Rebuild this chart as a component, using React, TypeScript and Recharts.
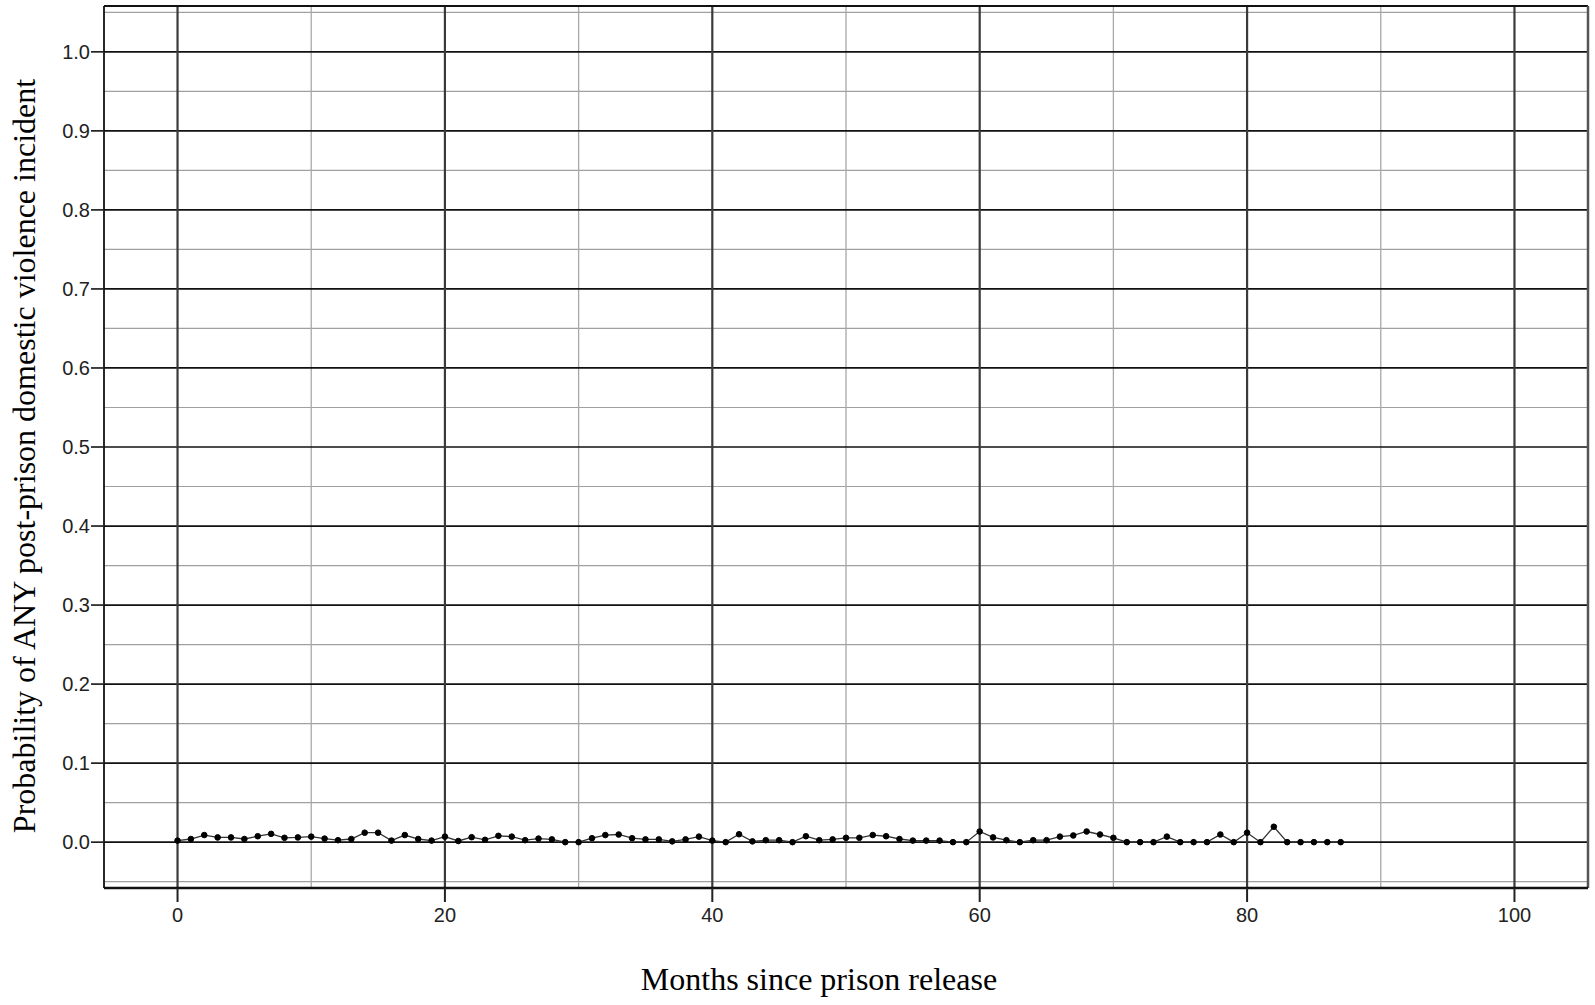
import { LineChart, Line, XAxis, YAxis, ReferenceLine, Label } from 'recharts';

// months since release (x) and estimated probability (y)
const months = [
  0, 1, 2, 3, 4, 5, 6, 7, 8, 9, 10, 11, 12, 13, 14, 15, 16, 17, 18, 19, 20, 21,
  22, 23, 24, 25, 26, 27, 28, 29, 30, 31, 32, 33, 34, 35, 36, 37, 38, 39, 40, 41,
  42, 43, 44, 45, 46, 47, 48, 49, 50, 51, 52, 53, 54, 55, 56, 57, 58, 59, 60, 61,
  62, 63, 64, 65, 66, 67, 68, 69, 70, 71, 72, 73, 74, 75, 76, 77, 78, 79, 80, 81,
  82, 83, 84, 85, 86, 87,
];

const probability = [
  0.002, 0.004, 0.009, 0.006, 0.006, 0.004, 0.0075, 0.0105, 0.0055, 0.006, 0.007, 0.0045,
  0.0025, 0.004, 0.012, 0.012, 0.002, 0.009, 0.004, 0.002, 0.007, 0.0015,
  0.0063, 0.003, 0.008, 0.007, 0.0025, 0.0045, 0.0035, 0.0, 0.0, 0.005, 0.009, 0.0097,
  0.005, 0.0035, 0.0035, 0.001, 0.0035, 0.007, 0.002, 0.0,
  0.01, 0.001, 0.0025, 0.0025, 0.0, 0.0075, 0.0025, 0.0035, 0.0055, 0.0055, 0.009, 0.0075,
  0.004, 0.002, 0.002, 0.002, 0.0, 0.0, 0.0135, 0.006,
  0.0025, 0.0, 0.0025, 0.0025, 0.007, 0.0085, 0.0135, 0.0097, 0.0055, 0.0, 0.0, 0.0,
  0.007, 0.0, 0.0, 0.0, 0.0097, 0.0, 0.012, 0.0,
  0.0195, 0.0, 0.0, 0.0, 0.0, 0.0,
];

const xTicks = [0, 20, 40, 60, 80, 100];
const xMinor = [10, 30, 50, 70, 90];
const yTicks = [0, 0.1, 0.2, 0.3, 0.4, 0.5, 0.6, 0.7, 0.8, 0.9, 1.0];
const yMinor = [-0.05, 0.05, 0.15, 0.25, 0.35, 0.45, 0.55, 0.65, 0.75, 0.85, 0.95, 1.05];

const X_DOMAIN: [number, number] = [-5.5, 105.5];
const Y_DOMAIN: [number, number] = [-0.058, 1.058];

const data = months.map((m, i) => ({ month: m, p: probability[i] }));

const sans = "'Liberation Sans', Arial, sans-serif";
const serif = "'Liberation Serif', 'Times New Roman', serif";

export default function App() {
  return (
    <div style={{ position: 'absolute', left: 0, top: 0, background: '#fff' }}>
      <LineChart width={1595} height={1005} data={data} margin={{ top: 6, right: 7, left: 0, bottom: 0 }}>
        {yMinor.map((v) => (
          <ReferenceLine key={'ym' + v} y={v} stroke="#a0a0a0" strokeWidth={1.2} />
        ))}
        {xMinor.map((v) => (
          <ReferenceLine key={'xm' + v} x={v} stroke="#a8a8a8" strokeWidth={1.3} />
        ))}
        {yTicks.map((v) => (
          <ReferenceLine key={'yM' + v} y={v} stroke="#111" strokeWidth={1.7} />
        ))}
        {xTicks.map((v) => (
          <ReferenceLine key={'xM' + v} x={v} stroke="#3a3a3a" strokeWidth={2.2} />
        ))}
        <ReferenceLine y={Y_DOMAIN[1]} stroke="#111" strokeWidth={2} />
        <ReferenceLine x={X_DOMAIN[1]} stroke="#555" strokeWidth={2.5} />
        <XAxis
          dataKey="month"
          type="number"
          domain={X_DOMAIN}
          ticks={xTicks}
          height={117}
          tickSize={14}
          tickMargin={6}
          axisLine={{ stroke: '#111', strokeWidth: 2.5 }}
          tickLine={{ stroke: '#222', strokeWidth: 2 }}
          tick={{ fill: '#222', fontSize: 20, fontFamily: sans }}
          allowDataOverflow
        >
          <Label
            content={() => (
              <text x={819} y={990} textAnchor="middle" fontFamily={serif} fontSize={32} fill="#000">
                Months since prison release
              </text>
            )}
          />
        </XAxis>
        <YAxis
          type="number"
          domain={Y_DOMAIN}
          ticks={yTicks}
          width={104}
          tickSize={13}
          tickMargin={1}
          tickFormatter={(v: number) => v.toFixed(1)}
          axisLine={{ stroke: '#111', strokeWidth: 1.8 }}
          tickLine={{ stroke: '#222', strokeWidth: 1.7 }}
          tick={{ fill: '#222', fontSize: 20, fontFamily: sans }}
          allowDataOverflow
        >
          <Label
            content={() => (
              <text
                x={35}
                y={456}
                transform="rotate(-90 35 456)"
                textAnchor="middle"
                fontFamily={serif}
                fontSize={32}
                fill="#000"
              >
                Probability of ANY post-prison domestic violence incident
              </text>
            )}
          />
        </YAxis>
        <Line
          type="linear"
          dataKey="p"
          stroke="#333"
          strokeWidth={1.3}
          dot={{ r: 2.8, fill: '#000', stroke: '#000', strokeWidth: 1 }}
          isAnimationActive={false}
        />
      </LineChart>
    </div>
  );
}
